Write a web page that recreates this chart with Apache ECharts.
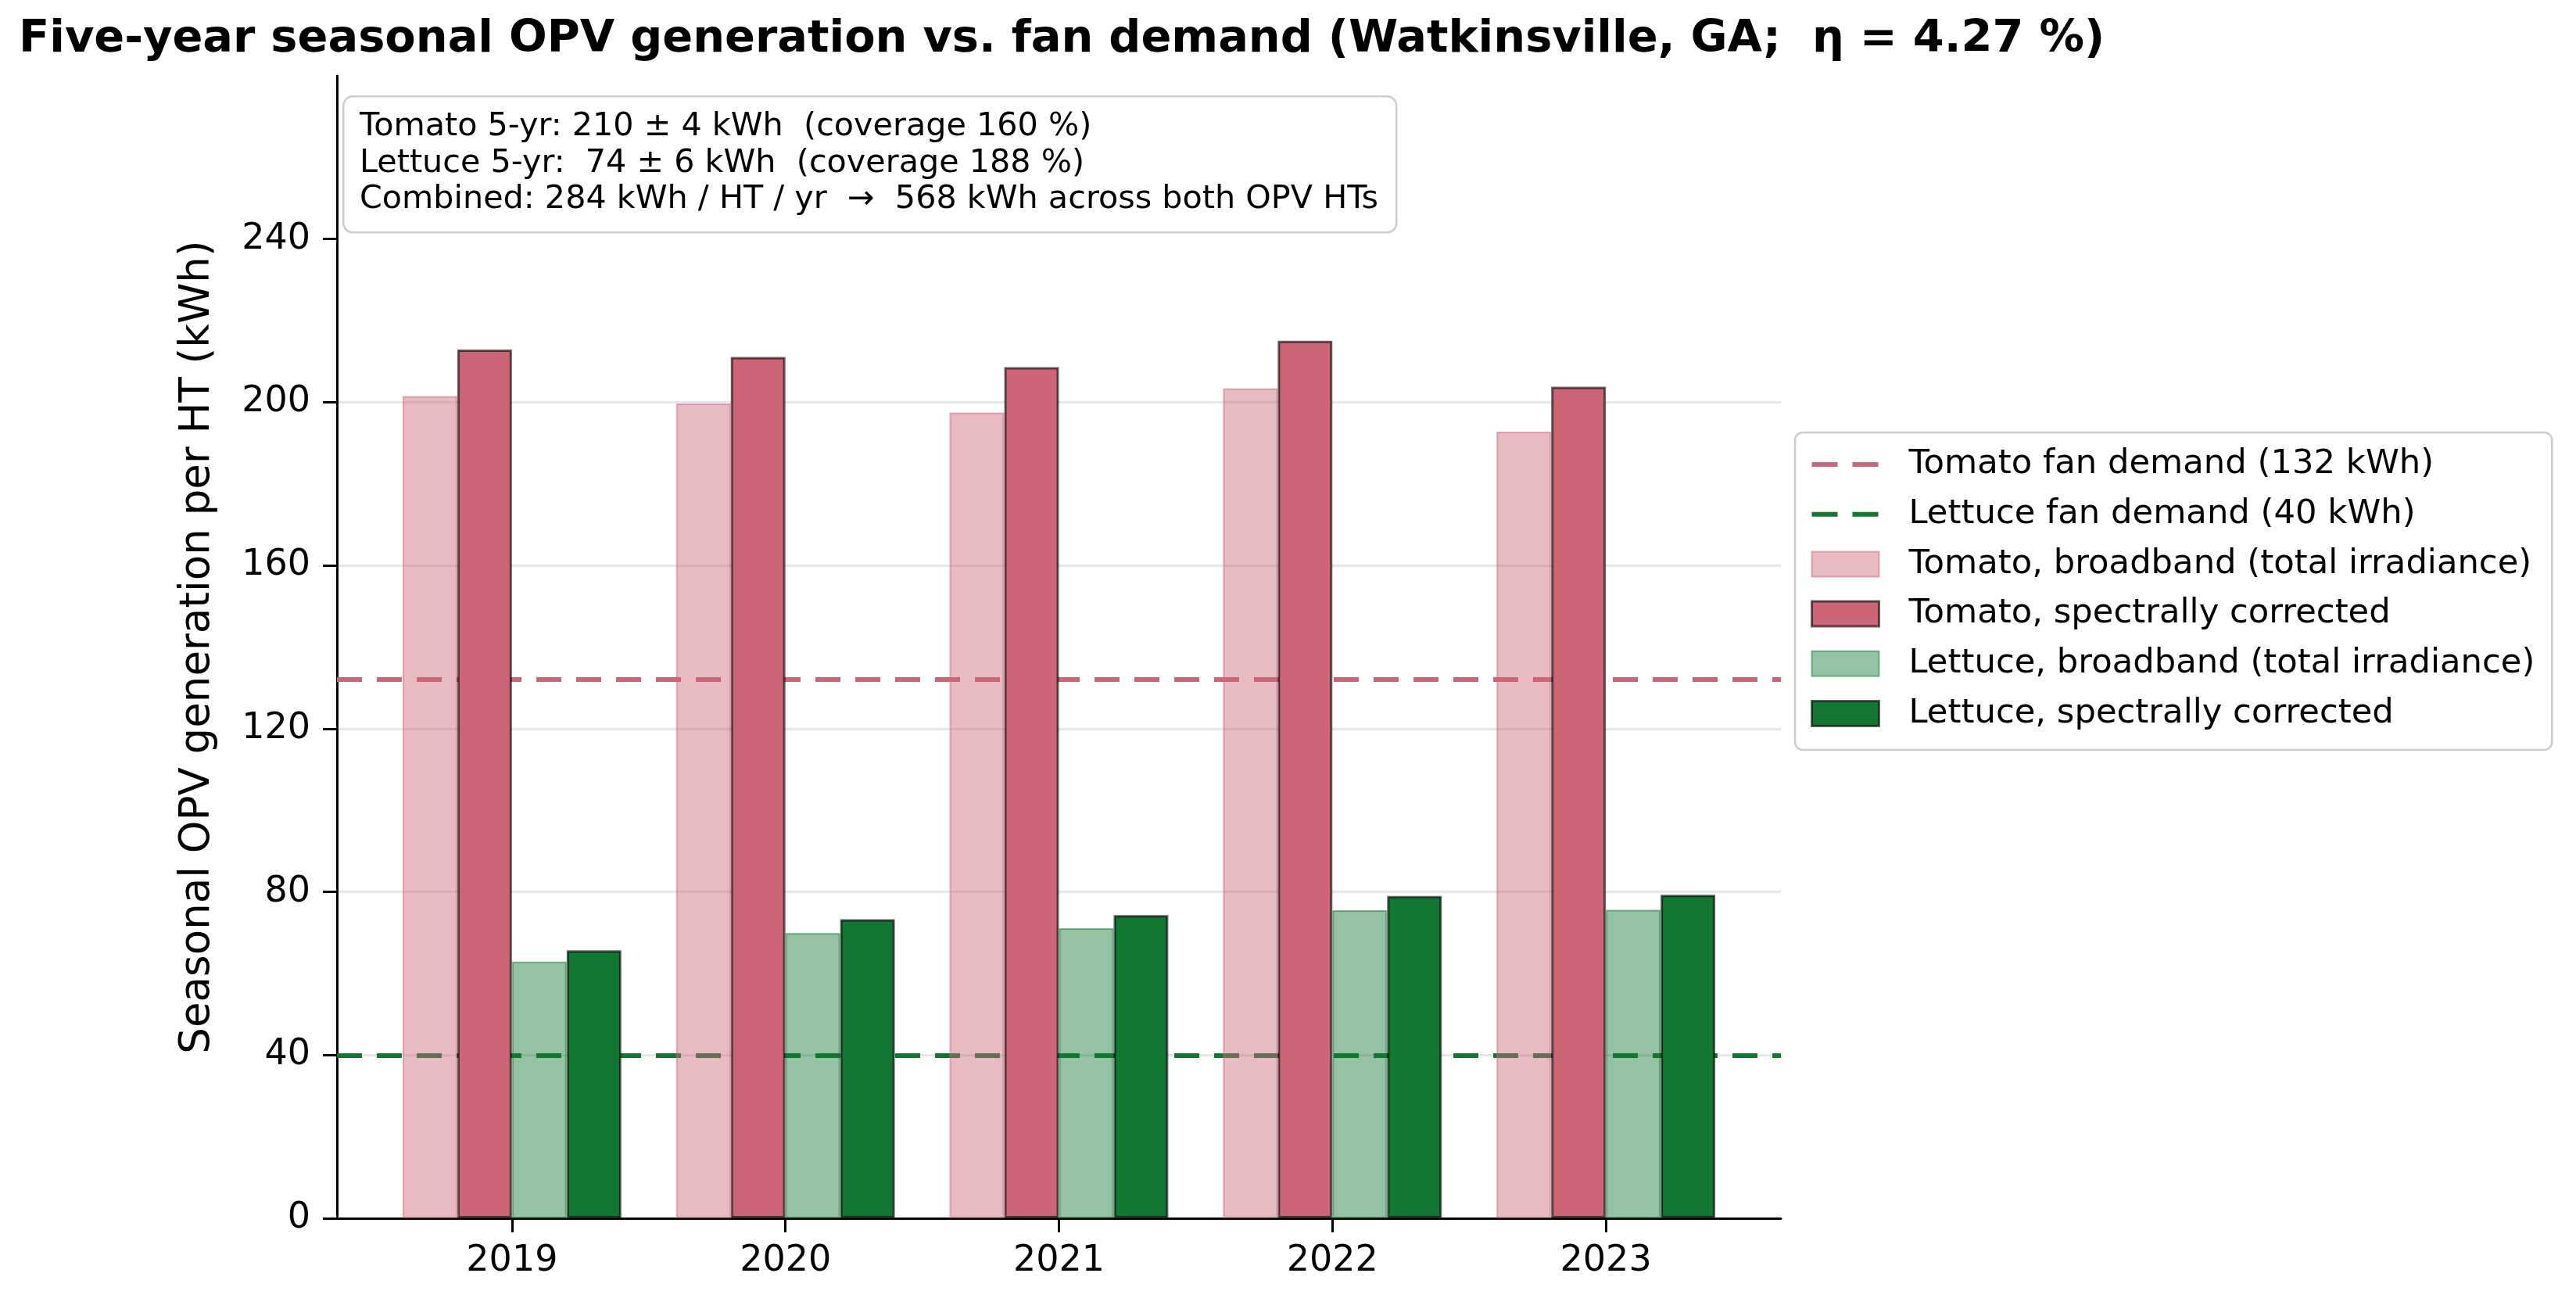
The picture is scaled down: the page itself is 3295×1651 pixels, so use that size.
<!DOCTYPE html>
<html>
<head>
<meta charset="utf-8">
<title>Seasonal OPV generation vs fan demand</title>
<script src="https://cdn.jsdelivr.net/npm/echarts@6/dist/echarts.min.js"></script>
<style>
  html, body { margin: 0; padding: 0; background: #fff; }
  #chart { width: 3295px; height: 1651px; }
</style>
</head>
<body>
<div id="chart"></div>
<script>
// data (kWh per HT)
const years = ['2019', '2020', '2021', '2022', '2023'];
const tomatoBroadband = [201.5, 199.7, 197.5, 203.4, 192.8];
const tomatoCorrected = [212.9, 211.1, 208.6, 215.1, 203.8];
const lettuceBroadband = [62.9, 69.9, 71.1, 75.5, 75.6];
const lettuceCorrected = [65.7, 73.3, 74.3, 79.0, 79.3];
const tomatoDemand = 132;
const lettuceDemand = 40;
const yTicks = [0, 40, 80, 120, 160, 200, 240];
const summaryLines = [
  'Tomato 5-yr: 210 \u00b1 4 kWh  (coverage 160 %)',
  'Lettuce 5-yr:  74 \u00b1 6 kWh  (coverage 188 %)',
  'Combined: 284 kWh / HT / yr  \u2192  568 kWh across both OPV HTs'
];

const FONT = '"DejaVu Sans", "Liberation Sans", sans-serif';
const ROSE = '#cc6677';
const GREEN = '#117733';

const chart = echarts.init(document.getElementById('chart'), null, { renderer: 'canvas' });

function pairs(values) {
  return values.map((v, i) => [i, v]);
}

function barSeries(name, values, fill, border, borderWidth) {
  return {
    name: name,
    type: 'bar',
    data: pairs(values),
    barGap: '0%',
    barCategoryGap: '20%',
    z: 2,
    itemStyle: { color: fill, borderColor: border, borderWidth: borderWidth },
    emphasis: { disabled: true },
    silent: true
  };
}

function demandSeries(name, value, color) {
  return {
    name: name,
    type: 'line',
    data: [],
    z: 1,
    silent: true,
    markLine: {
      silent: true,
      z: 1,
      symbol: ['none', 'none'],
      label: { show: false },
      lineStyle: { color: color, width: 6, type: [32, 19], dashOffset: 0 },
      emphasis: { disabled: true },
      data: [{ yAxis: value }]
    }
  };
}

const dashIcon = 'path://M0,0 M86,32 M0,13h33v6h-33z M52,13h33v6h-33z';

chart.setOption({
  animation: false,
  backgroundColor: '#fff',
  textStyle: { fontFamily: FONT },
  title: {
    text: 'Five-year seasonal OPV generation vs. fan demand (Watkinsville, GA;  \u03b7 = 4.27 %)',
    left: 24,
    top: 22,
    padding: 0,
    textStyle: { fontFamily: FONT, fontSize: 57.4, fontWeight: 'bold', color: '#000', lineHeight: 59 }
  },
  grid: { left: 431, right: 1017, top: 97, bottom: 93, outerBoundsMode: 'none' },
  xAxis: {
    type: 'value',
    min: -0.64,
    max: 4.64,
    axisLine: { show: true, onZero: false, lineStyle: { color: '#000', width: 3 } },
    axisTick: { show: true, length: 18, lineStyle: { color: '#000', width: 3 }, customValues: years.map((y, i) => i) },
    axisLabel: {
      customValues: years.map((y, i) => i),
      formatter: (v) => years[Math.round(v)],
      color: '#000', fontFamily: FONT, fontSize: 46, margin: 32
    },
    splitLine: { show: false }
  },
  yAxis: {
    type: 'value',
    min: 0,
    max: 280,
    interval: 40,
    name: 'Seasonal OPV generation per HT (kWh)',
    nameLocation: 'middle',
    nameGap: 151,
    nameTextStyle: { color: '#000', fontFamily: FONT, fontSize: 53, lineHeight: 53 },
    axisLine: { show: true, onZero: false, lineStyle: { color: '#000', width: 3 } },
    axisTick: { show: true, length: 18, lineStyle: { color: '#000', width: 3 }, customValues: yTicks },
    axisLabel: { customValues: yTicks, color: '#000', fontFamily: FONT, fontSize: 46, margin: 34 },
    splitLine: { show: true, showMinLine: false, showMaxLine: false, lineStyle: { color: '#e6e6e6', width: 3 } }
  },
  legend: {
    orient: 'vertical',
    left: 2296,
    top: 553,
    padding: [19.5, 22, 25, 20],
    itemWidth: 86,
    itemHeight: 32,
    itemGap: 20.7,
    backgroundColor: '#fff',
    borderColor: '#cccccc',
    borderWidth: 2.5,
    borderRadius: 10,
    selectedMode: false,
    textStyle: { color: '#000', fontFamily: FONT, fontSize: 43.3, lineHeight: 43, padding: [0, 0, 0, 33] },
    data: [
      { name: 'Tomato fan demand (132 kWh)', icon: dashIcon, itemStyle: { color: ROSE, borderWidth: 0 } },
      { name: 'Lettuce fan demand (40 kWh)', icon: dashIcon, itemStyle: { color: GREEN, borderWidth: 0 } },
      { name: 'Tomato, broadband (total irradiance)', icon: 'rect',
        itemStyle: { color: 'rgba(204,102,119,0.45)', borderColor: 'rgba(204,102,119,0.5)', borderWidth: 2 } },
      { name: 'Tomato, spectrally corrected', icon: 'rect',
        itemStyle: { color: ROSE, borderColor: 'rgba(0,0,0,0.6)', borderWidth: 3 } },
      { name: 'Lettuce, broadband (total irradiance)', icon: 'rect',
        itemStyle: { color: 'rgba(17,119,51,0.45)', borderColor: 'rgba(17,119,51,0.5)', borderWidth: 2 } },
      { name: 'Lettuce, spectrally corrected', icon: 'rect',
        itemStyle: { color: GREEN, borderColor: 'rgba(0,0,0,0.6)', borderWidth: 3 } }
    ]
  },
  graphic: [
    {
      type: 'rect',
      left: 438,
      top: 122,
      z: 10,
      shape: { width: 1347, height: 174, r: 12 },
      style: { fill: 'rgba(255,255,255,0.85)', stroke: '#cccccc', lineWidth: 2.5 }
    },
    {
      type: 'text',
      left: 460,
      top: 139,
      z: 11,
      style: { text: summaryLines.join('\n'), font: '41.3px ' + FONT, lineHeight: 46.7, fill: '#000' }
    }
  ],
  series: [
    demandSeries('Tomato fan demand (132 kWh)', tomatoDemand, ROSE),
    demandSeries('Lettuce fan demand (40 kWh)', lettuceDemand, GREEN),
    barSeries('Tomato, broadband (total irradiance)', tomatoBroadband, 'rgba(204,102,119,0.45)', 'rgba(204,102,119,0.5)', 2),
    barSeries('Tomato, spectrally corrected', tomatoCorrected, ROSE, 'rgba(0,0,0,0.6)', 3),
    barSeries('Lettuce, broadband (total irradiance)', lettuceBroadband, 'rgba(17,119,51,0.45)', 'rgba(17,119,51,0.5)', 2),
    barSeries('Lettuce, spectrally corrected', lettuceCorrected, GREEN, 'rgba(0,0,0,0.6)', 3)
  ]
});
</script>
</body>
</html>
